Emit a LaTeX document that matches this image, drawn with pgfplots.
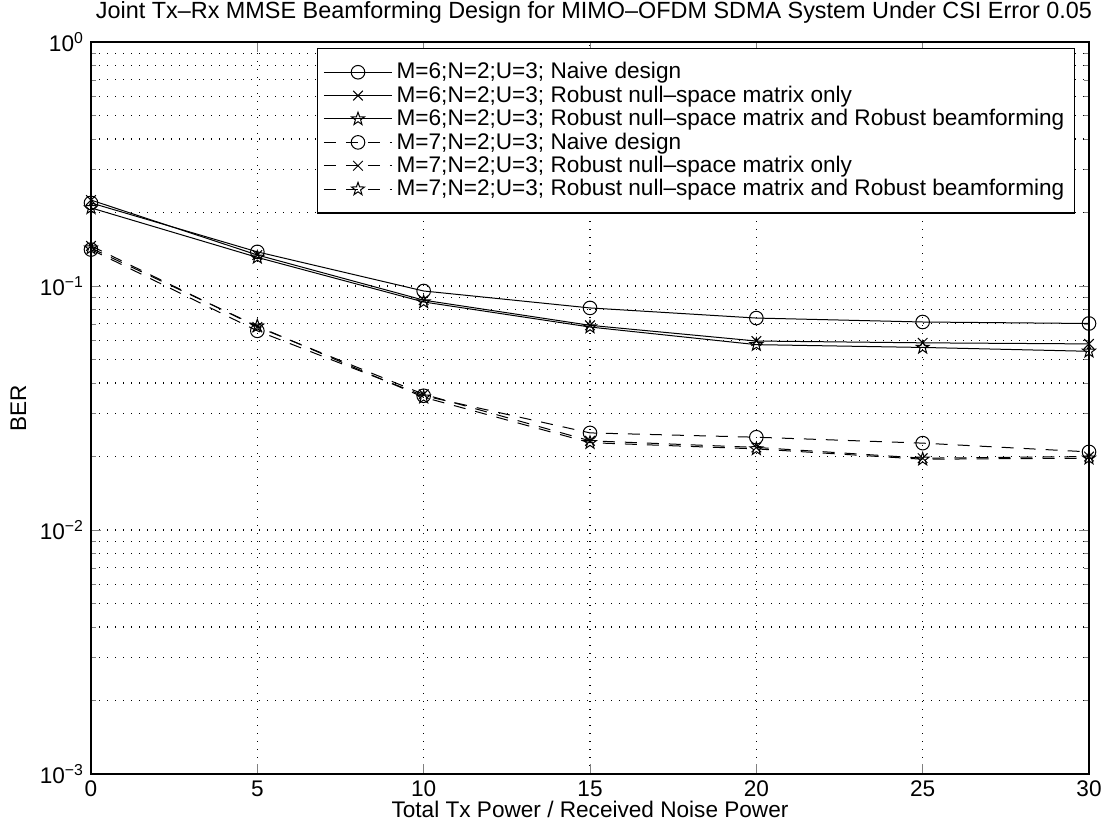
\documentclass[border=0pt]{standalone}
\usepackage{fontspec}
\setmainfont{Liberation Sans}
\usepackage{pgfplots}
\pgfplotsset{compat=1.18}
\usetikzlibrary{plotmarks}

% outlined five-point star, like MATLAB's 'p' marker
\pgfdeclareplotmark{pentagram}{%
  \pgfpathmoveto{\pgfpointpolar{90}{\pgfplotmarksize}}%
  \pgfpathlineto{\pgfpointpolar{126}{0.4\pgfplotmarksize}}%
  \pgfpathlineto{\pgfpointpolar{162}{\pgfplotmarksize}}%
  \pgfpathlineto{\pgfpointpolar{198}{0.4\pgfplotmarksize}}%
  \pgfpathlineto{\pgfpointpolar{234}{\pgfplotmarksize}}%
  \pgfpathlineto{\pgfpointpolar{270}{0.4\pgfplotmarksize}}%
  \pgfpathlineto{\pgfpointpolar{306}{\pgfplotmarksize}}%
  \pgfpathlineto{\pgfpointpolar{342}{0.4\pgfplotmarksize}}%
  \pgfpathlineto{\pgfpointpolar{18}{\pgfplotmarksize}}%
  \pgfpathlineto{\pgfpointpolar{54}{0.4\pgfplotmarksize}}%
  \pgfpathclose
  \pgfusepathqstroke}

\newcommand{\txt}{\fontsize{11.3}{12}\selectfont}

\begin{document}
\begin{tikzpicture}
\begin{axis}[
  scale only axis,
  width=499pt, height=366pt,
  ymode=log,
  xmin=0, xmax=30, ymin=1e-3, ymax=1,
  xtick={0,5,...,30},
  ytick={1e-3,1e-2,1e-1,1},
  yticklabels={10\textsuperscript{−3},10\textsuperscript{−2},10\textsuperscript{−1},10\textsuperscript{0}},
  /pgf/number format/assume math mode=true,
  tick label style={font=\txt},
  label style={font=\txt},
  xlabel style={yshift=5pt},
  title style={font=\fontsize{11.7}{12}\selectfont, xshift=2pt},
  title={Joint Tx–Rx MMSE Beamforming Design for MIMO–OFDM SDMA System Under CSI Error 0.05},
  xlabel={Total Tx Power / Received Noise Power},
  ylabel={BER},
  tick pos=both,
  tick align=inside,
  major tick length=5pt,
  minor tick length=2.5pt,
  axis line style={line width=0.7pt},
  xmajorgrids, ymajorgrids, yminorgrids,
  major grid style={black, line width=0.6pt, dash pattern=on 0.6pt off 3.4pt},
  minor grid style={black, line width=0.6pt, dash pattern=on 0.6pt off 3.4pt},
  legend cell align=left,
  legend style={at={(0.986,0.992)}, anchor=north east, font=\txt,
    draw=black, line width=0.7pt, inner xsep=3pt, inner ysep=5pt, row sep=-2pt},
  legend image code/.code={%
    \draw[#1] (0cm,0cm) -- (1.2cm,0cm);
    \draw[#1, only marks] plot coordinates {(0.6cm,0cm)};},
]
\addplot[black, line width=0.5pt, mark size=3.4pt, mark options={solid}, solid, mark=o]
  coordinates {(0,0.219) (5,0.138) (10,0.0954) (15,0.0813) (20,0.0739) (25,0.0712) (30,0.0702)};
\addlegendentry{M=6;N=2;U=3; Naive design}
\addplot[black, line width=0.5pt, mark size=3.4pt, mark options={solid}, solid, mark=x]
  coordinates {(0,0.225) (5,0.134) (10,0.0875) (15,0.0690) (20,0.0595) (25,0.0585) (30,0.0579)};
\addlegendentry{M=6;N=2;U=3; Robust null–space matrix only}
\addplot[black, line width=0.5pt, mark size=3.4pt, mark options={solid}, solid, mark=pentagram]
  coordinates {(0,0.209) (5,0.131) (10,0.0860) (15,0.0679) (20,0.0575) (25,0.0560) (30,0.0540)};
\addlegendentry{M=6;N=2;U=3; Robust null–space matrix and Robust beamforming}
\addplot[black, line width=0.5pt, mark size=3.4pt, mark options={solid}, dash pattern=on 6pt off 5pt, mark=o]
  coordinates {(0,0.141) (5,0.0655) (10,0.0355) (15,0.0250) (20,0.0240) (25,0.0227) (30,0.0209)};
\addlegendentry{M=7;N=2;U=3; Naive design}
\addplot[black, line width=0.5pt, mark size=3.4pt, mark options={solid}, dash pattern=on 6pt off 5pt, mark=x]
  coordinates {(0,0.146) (5,0.0680) (10,0.0360) (15,0.0232) (20,0.0218) (25,0.0197) (30,0.0200)};
\addlegendentry{M=7;N=2;U=3; Robust null–space matrix only}
\addplot[black, line width=0.5pt, mark size=3.4pt, mark options={solid}, dash pattern=on 6pt off 5pt, mark=pentagram]
  coordinates {(0,0.143) (5,0.0685) (10,0.0350) (15,0.0228) (20,0.0215) (25,0.0195) (30,0.0197)};
\addlegendentry{M=7;N=2;U=3; Robust null–space matrix and Robust beamforming}
\end{axis}
\pgfresetboundingbox
\path ([shift={(-45.5pt,-28.5pt)}]current axis.south west) rectangle ([shift={(9pt,21pt)}]current axis.north east);
\end{tikzpicture}
\end{document}
